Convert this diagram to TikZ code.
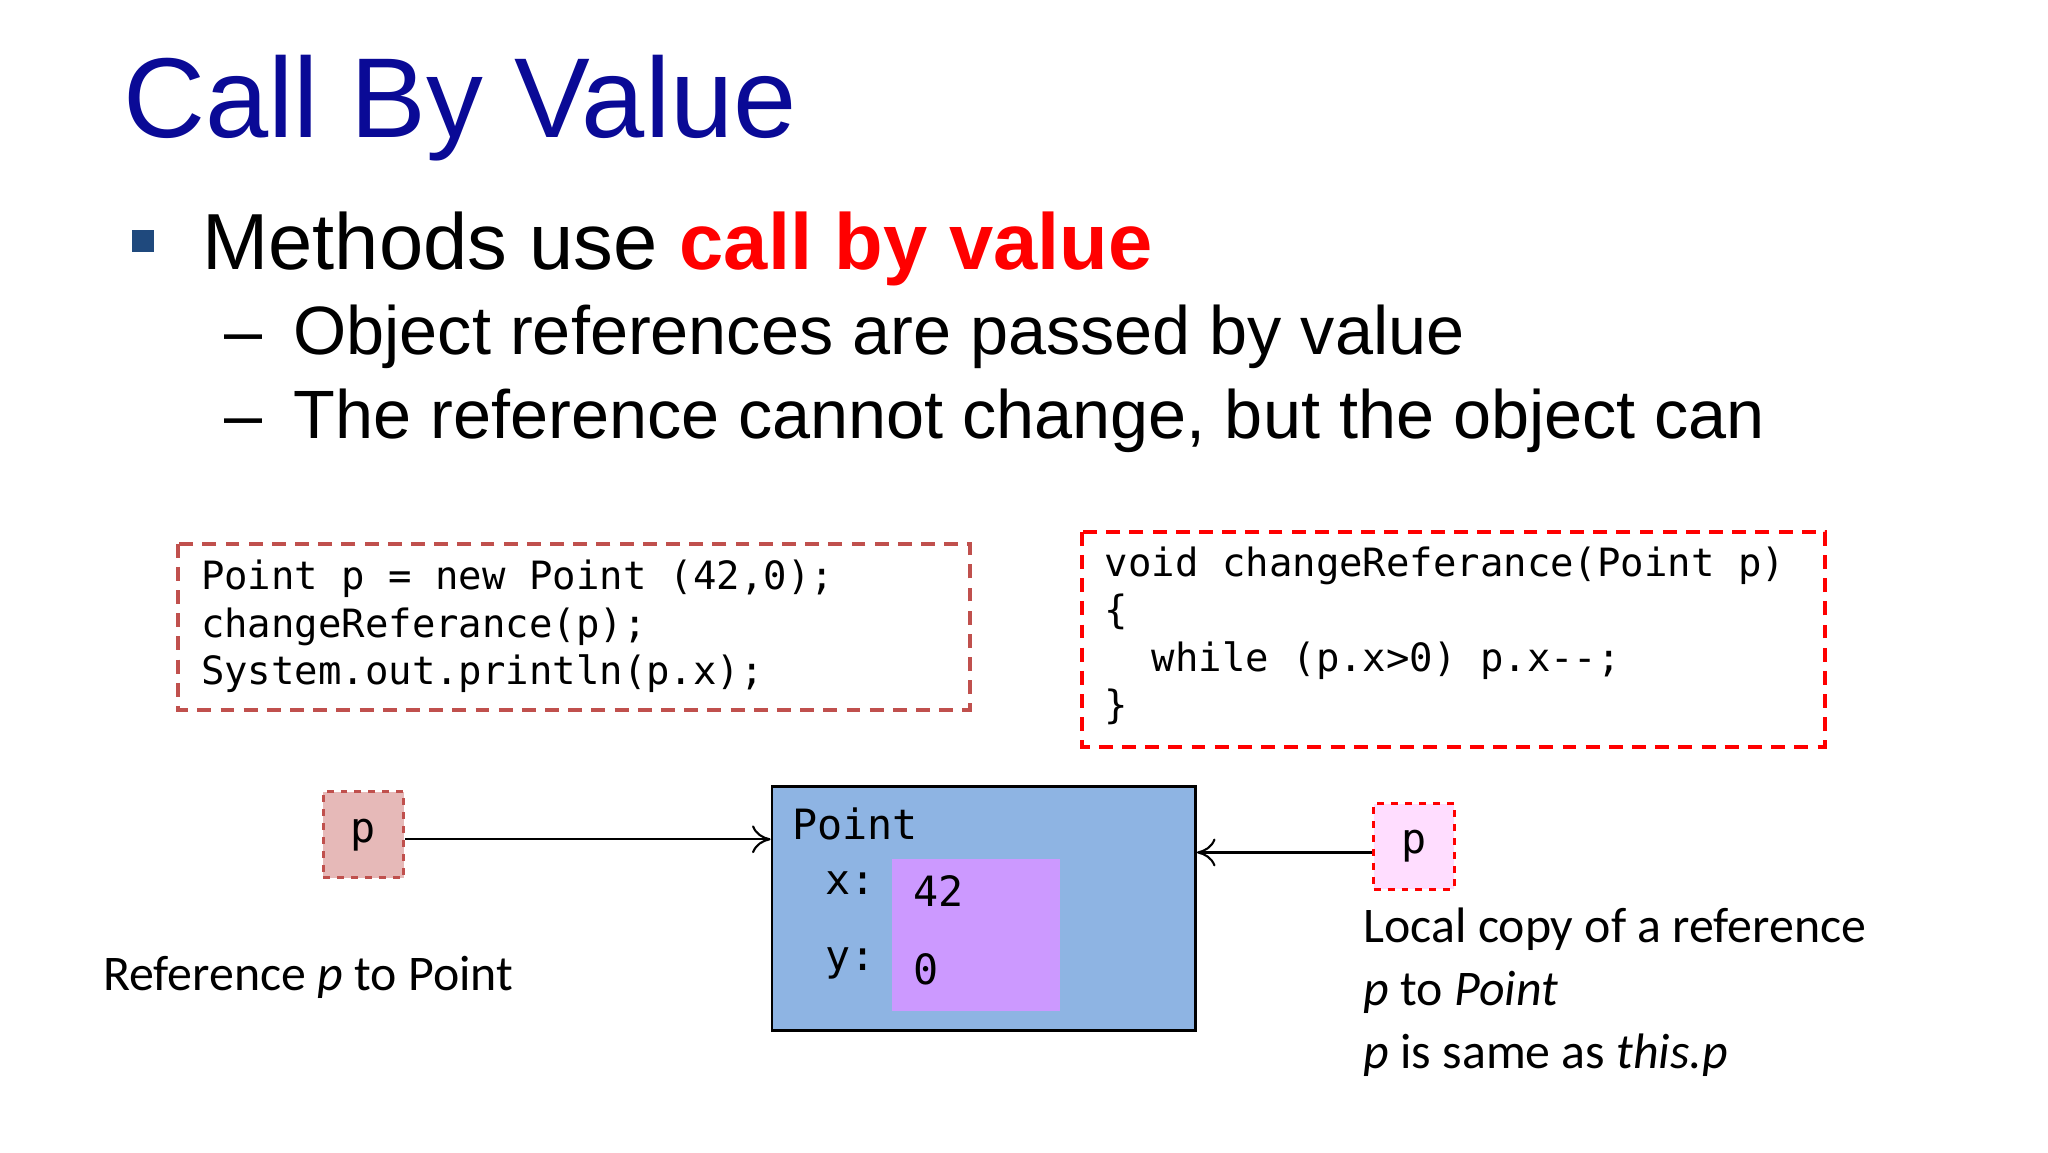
\documentclass[tikz,border=0pt]{standalone}
\usetikzlibrary{arrows.meta}
\usepackage{fontspec}
\setmainfont{Liberation Sans}
\newfontfamily\calib{Carlito}
\setmonofont{DejaVu Sans Mono}
\definecolor{titleblue}{RGB}{10,10,150}
\definecolor{bulblue}{RGB}{31,73,125}
\definecolor{dkred}{RGB}{192,80,77}
\definecolor{pinkfill}{RGB}{230,185,184}
\definecolor{ptblue}{RGB}{142,180,227}
\definecolor{purp}{RGB}{204,153,255}
\definecolor{lpink}{RGB}{255,221,255}
\begin{document}
\begin{tikzpicture}[x=0.02cm,y=-0.02cm,
  codebox/.style={draw, dashed, line width=1.6pt, dash pattern=on 6pt off 4pt},
  reftip/.style={-{To[length=8pt,width=12pt]}, line width=0.9pt},
  code/.style={font=\ttfamily\fontsize{16.8}{20.5}\selectfont, anchor=north west, align=left, inner sep=0pt},
  lbl/.style={font=\calib\fontsize{21.5}{27}\selectfont, anchor=north west, align=left, inner sep=0pt}]
\useasboundingbox (0,0) rectangle (1552,873);
\node[anchor=base west, inner sep=0pt, text=titleblue, font=\fontsize{49}{60}\selectfont] (title) at (93,104) {Call By Value};
\fill[bulblue] (100,174) rectangle (117,191);
\node[anchor=base west, inner sep=0pt, font=\fontsize{34.3}{42}\selectfont] (b1) at (153,204) {Methods use \textcolor{red}{\textbf{call by value}}};
\node[anchor=base west, inner sep=0pt, font=\fontsize{29.5}{38}\selectfont] (b2) at (170,269) {–\hspace{0.45em}Object references are passed by value};
\node[anchor=base west, inner sep=0pt, font=\fontsize{29.5}{38}\selectfont] (b3) at (170,332) {–\hspace{0.45em}The reference cannot change, but the object can};
\draw[codebox, dkred] (135,412) rectangle (735,538);
\node[code] (c1) at (152,424) {Point p = new Point (42,0);\\changeReferance(p);\\System.out.println(p.x);};
\draw[codebox, red] (820,403) rectangle (1383,566);
\node[code] (c2) at (837,414) {void changeReferance(Point p)\\\{\\\ \ while (p.x>0) p.x--;\\\}};
\node[draw=dkred, fill=pinkfill, dashed, line width=1.3pt, minimum width=61*0.02cm, minimum height=65*0.02cm, font=\ttfamily\fontsize{18}{20}\selectfont, inner sep=0pt] (p1) at (275.5,632.5) {p};
\node[draw=black, fill=ptblue, line width=1.2pt, minimum width=321*0.02cm, minimum height=185*0.02cm, inner sep=0pt] (pt) at (745.5,688.5) {};
\fill[purp] (676,651) rectangle (803,766);
\node[code, font=\ttfamily\fontsize{18}{20}\selectfont] (ptl) at (600,612) {Point};
\node[code, font=\ttfamily\fontsize{18}{20}\selectfont] (xl) at (625,660) {x:};
\node[code, font=\ttfamily\fontsize{18}{20}\selectfont] (yl) at (625,718) {y:};
\node[code, font=\ttfamily\fontsize{18}{20}\selectfont] (xv) at (692,663) {42};
\node[code, font=\ttfamily\fontsize{18}{20}\selectfont] (yv) at (692,722) {0};
\node[draw=red, fill=lpink, dashed, line width=1.3pt, minimum width=61*0.02cm, minimum height=65*0.02cm, font=\ttfamily\fontsize{18}{20}\selectfont, inner sep=0pt] (p2) at (1071.5,641.5) {p};
\draw[reftip] (p1.east |- 0,636) -- (pt.west |- 0,636);
\draw[reftip] (p2.west |- 0,646) -- (pt.east |- 0,646);
\node[lbl] (l1) at (78,724) {Reference \textit{p} to Point};
\node[lbl] (l2) at (1033,688) {Local copy of a reference\\\textit{p} to \textit{Point}\\\textit{p} is same as \textit{this.p}};
\end{tikzpicture}
\end{document}
